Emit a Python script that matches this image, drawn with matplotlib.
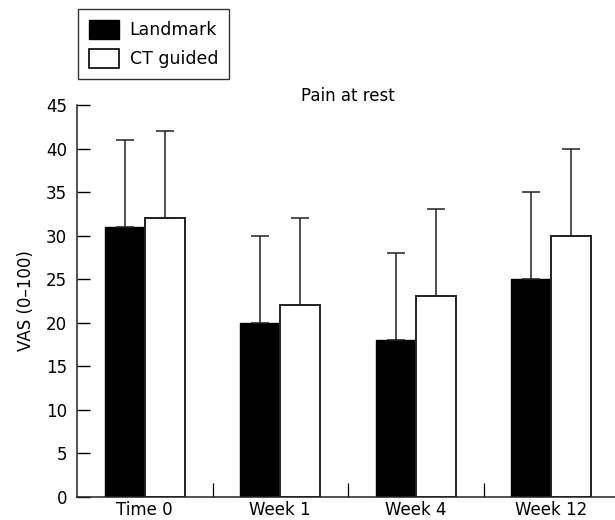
import matplotlib
matplotlib.use("Agg")
import matplotlib.pyplot as plt
import numpy as np
from matplotlib.patches import Patch

categories = ["Time 0", "Week 1", "Week 4", "Week 12"]
landmark = [31, 20, 18, 25]
landmark_err = [10, 10, 10, 10]
ct_guided = [32, 22, 23, 30]
ct_err = [10, 10, 10, 10]
series_names = ["Landmark", "CT guided"]
yticks = [0, 5, 10, 15, 20, 25, 30, 35, 40, 45]

plt.rcParams['font.family'] = ['DejaVu Sans']
fs = 12

fig = plt.figure(figsize=(6.15, 5.2), dpi=100)
W, H = 615, 520
ax = fig.add_axes([77 / W, 23.3 / H, 542 / W, 391.7 / H])

x = np.arange(len(categories))
bw = 0.295
off = 0.148
ec = '#222222'
ax.bar(x - off, landmark, bw, color='black', edgecolor='black', linewidth=1.0, zorder=2)
ax.bar(x + off, ct_guided, bw, color='white', edgecolor=ec, linewidth=1.4, zorder=2)
ax.errorbar(x - off, landmark, yerr=[np.zeros(len(x)), landmark_err], fmt='none',
            ecolor=ec, elinewidth=1.1, capsize=6.5, capthick=1.1, zorder=3)
ax.errorbar(x + off, ct_guided, yerr=[np.zeros(len(x)), ct_err], fmt='none',
            ecolor=ec, elinewidth=1.1, capsize=6.5, capthick=1.1, zorder=3)

ax.set_xlim(-0.5, len(categories) - 0.5)
ax.set_ylim(0, 45)
ax.set_yticks(yticks)
ax.set_yticklabels([str(v) for v in yticks], fontsize=fs)
ax.tick_params(axis='y', direction='in', length=9.5, width=1.0, pad=7, colors='black')

ax.set_xticks(x[:-1] + 0.5)
ax.set_xticklabels([])
ax.tick_params(axis='x', which='major', direction='in', length=10, width=0.9)
ax.set_xticks(x, minor=True)
ax.set_xticklabels(categories, minor=True, fontsize=fs)
ax.tick_params(axis='x', which='minor', length=0, pad=3)

for s in ['top', 'right']:
    ax.spines[s].set_visible(False)
for s in ['left', 'bottom']:
    ax.spines[s].set_linewidth(1.1)
    ax.spines[s].set_color('#222222')

ax.set_ylabel("VAS (0–100)", fontsize=fs, labelpad=8)
ax.set_title("Pain at rest", fontsize=fs, pad=2, x=(347.5 - 77) / 542)

handles = [Patch(facecolor='black', edgecolor='black'),
           Patch(facecolor='white', edgecolor='black', linewidth=1.2)]
leg = fig.legend(handles, series_names, loc='upper left',
                 bbox_to_anchor=(78 / W, 1 - 9 / H), bbox_transform=fig.transFigure,
                 borderaxespad=0, fontsize=12.5, frameon=True, fancybox=False,
                 handlelength=1.75, handleheight=1.3, handletextpad=0.6,
                 labelspacing=0.55, borderpad=0.62)
leg.get_frame().set_edgecolor('black')
leg.get_frame().set_linewidth(1.0)

fig.savefig("out.png", dpi=100)
